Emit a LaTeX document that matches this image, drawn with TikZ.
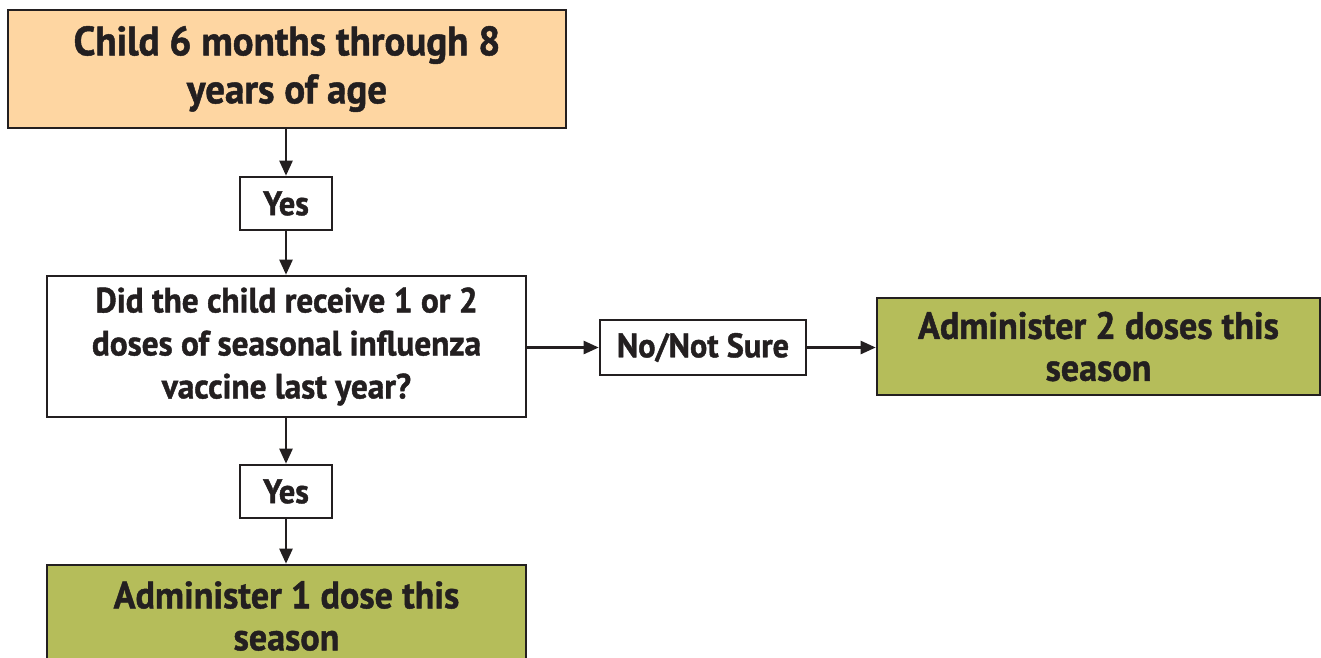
\documentclass[tikz,border=0pt]{standalone}
\usepackage{fontspec}
\setmainfont{PT Sans}[FakeStretch=0.95, BoldFeatures={FakeBold=1.2}]
\usetikzlibrary{arrows.meta}
\definecolor{peach}{HTML}{FED6A2}
\definecolor{olive}{HTML}{B5BD5A}
\definecolor{ink}{HTML}{231F20}
\tikzset{
  box/.style={draw=ink, line width=2.6pt, align=center, inner sep=0pt, text=ink, font=\bfseries},
  arr/.style={draw=ink, line width=2.4pt, -{Triangle[length=15pt,width=13pt]}},
}
\begin{document}
\begin{tikzpicture}[x=1pt,y=1pt]
\useasboundingbox (0,0) rectangle (1321,-657);
\clip (0,0) rectangle (1321,-657);
\node[box, fill=peach, minimum width=558, minimum height=118, font=\bfseries\fontsize{41}{48}\selectfont] (top) at (287,-69) {Child 6 months through 8\\years of age};
\node[box, fill=white, minimum width=92, minimum height=53, font=\bfseries\fontsize{34}{36}\selectfont] (yes1) at (286,-203.5) {Yes};
\node[box, fill=white, minimum width=479, minimum height=141, font=\bfseries\fontsize{35}{43}\selectfont] (q) at (286.5,-346.5) {Did the child receive 1 or 2\\doses of seasonal influenza\\vaccine last year?};
\node[box, fill=white, minimum width=206, minimum height=55, font=\bfseries\fontsize{34}{36}\selectfont] (no) at (703,-347.5) {No/Not Sure};
\node[box, fill=olive, minimum width=443, minimum height=97, font=\bfseries\fontsize{38}{42}\selectfont] (g2) at (1098.5,-346.5) {Administer 2 doses this\\season};
\node[box, fill=white, minimum width=92, minimum height=53, font=\bfseries\fontsize{34}{36}\selectfont] (yes2) at (286,-491.5) {Yes};
\node[box, fill=olive, minimum width=479, minimum height=102, font=\bfseries\fontsize{38}{42}\selectfont] (g1) at (286.5,-616) {Administer 1 dose this\\season};
\draw[arr] (top.south -| yes1) -- (yes1.north);
\draw[arr] (yes1.south) -- (yes1.south |- q.north);
\draw[arr] (q.south -| yes2) -- (yes2.north);
\draw[arr] (yes2.south) -- (yes2.south |- g1.north);
\draw[arr] (q.east |- no) -- (no.west);
\draw[arr] (no.east) -- (no.east -| g2.west);
\end{tikzpicture}
\end{document}
